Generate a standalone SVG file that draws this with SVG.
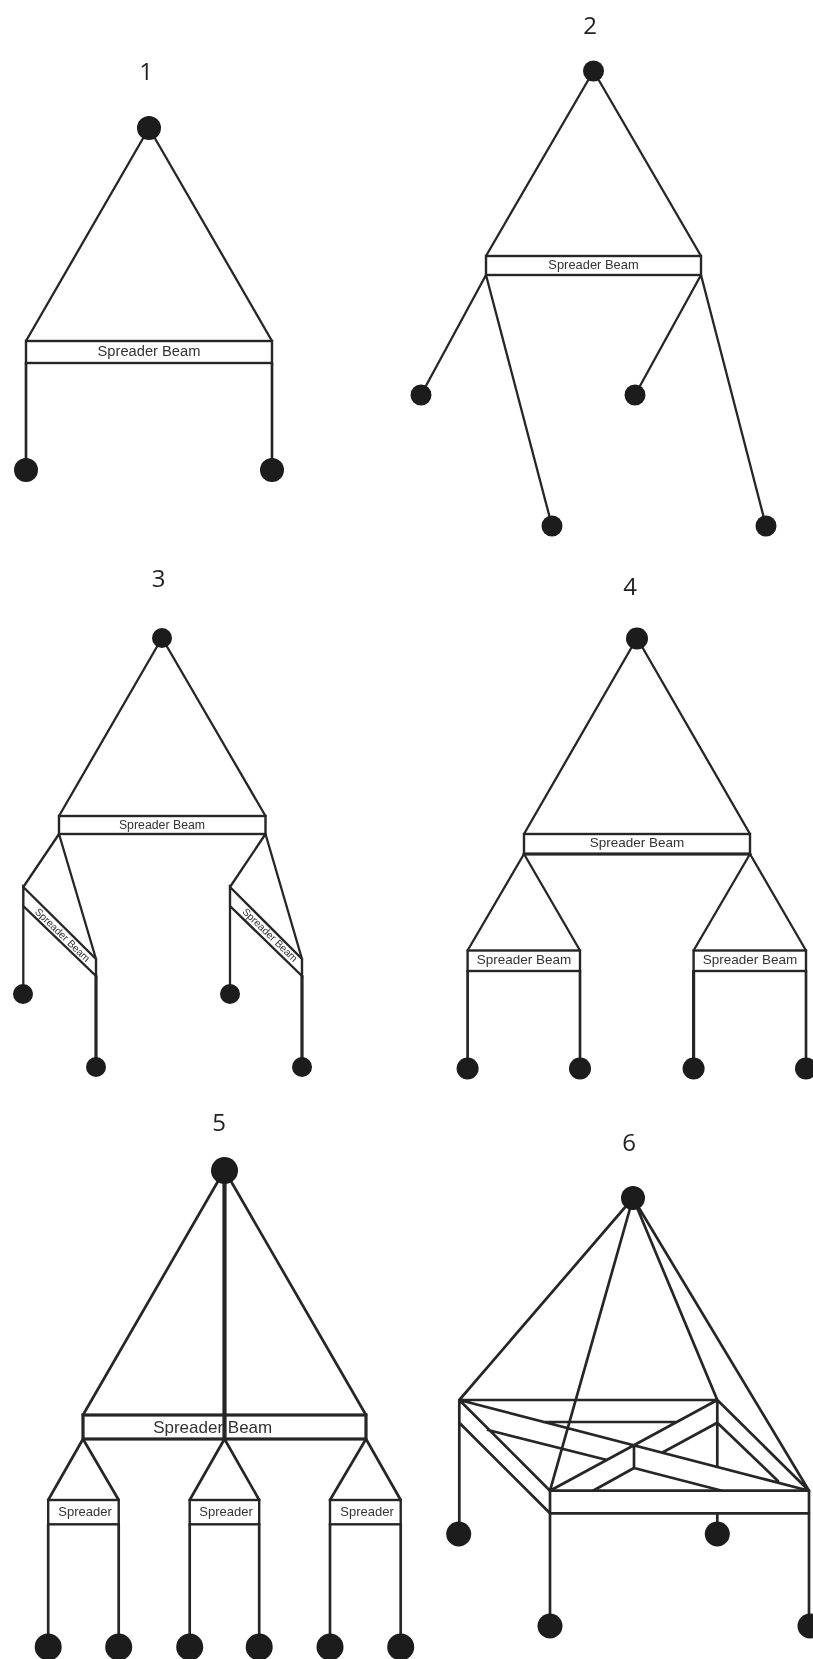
<svg xmlns="http://www.w3.org/2000/svg" width="813" height="1659" viewBox="0 0 813 1659">
<style>
.c{stroke:#262626;stroke-width:2.3;fill:none;stroke-linecap:round}
.h{stroke-width:2.7}
.t{stroke-width:3.2}
.b{stroke:#262626;stroke-width:2.4;fill:#fff}
.w{fill:#1a1a1a}
.l{font-family:"Liberation Sans",Arial,sans-serif;fill:#333;text-anchor:middle}
.n{font-family:"Open Sans",sans-serif;font-size:24px;fill:#222;text-anchor:middle}
</style>
<defs><filter id="soft" x="0" y="0" width="100%" height="100%"><feGaussianBlur stdDeviation="0.4"/></filter></defs>
<rect width="813" height="1659" fill="#fff"/>
<g filter="url(#soft)">
<g id="connectors">
<path class="c" d="M149 128L26 341M149 128L272 341"/>
<path class="c h" d="M26 363V470M272 363V470"/>
<path class="c" d="M593.5 71L486 256M593.5 71L701 256M486 275L421 395M486 275L552 526M701 275L635 395M701 275L766 526"/>
<path class="c" d="M162 638L59 816M162 638L265.5 816M59 834L23.3 887M59 834L96 959M265.5 834L230 887M265.5 834L302 959M23.3 906V994M230 906V994"/>
<path class="c t" d="M96 976V1067M302 976V1067"/>
<path class="c" d="M637 638L524 834M637 638L750 834M524 854L467.6 950.5M524 854L580 950.5M750 854L693.6 950.5M750 854L806 950.5"/>
<path class="c h" d="M467.6 971V1068M580 971V1068M806 971V1068"/>
<path class="c t" d="M693.6 971V1068"/>
<path class="c h" d="M224.5 1170L83 1415M224.5 1170L366 1415M83 1439L48.2 1500M83 1439L118.7 1500M224.5 1439L189.7 1500M224.5 1439L259.2 1500M366 1439L330 1500M366 1439L400.7 1500M48.2 1524V1647M118.7 1524V1647M189.7 1524V1647M259.2 1524V1647M330 1524V1647M400.7 1524V1647"/>
<path class="c h" d="M633 1198L459.3 1400M633 1198L550 1490.7M633 1198L717.3 1400M633 1198L809 1490.7M459.3 1400H717.3M459.3 1400L550 1490.7M459.3 1422.7L550 1513.3M459.3 1400V1534M459.3 1400L809 1490.7M717.3 1400L550 1490.7M717.3 1400V1466M717.3 1400L809 1490.7M717.3 1422.7L778 1481M717.3 1422.7L662 1452.7M543 1422H677M488 1430L607 1460M634 1447V1468M634 1468L593 1490.7M634 1468L722 1490.7M550 1513.3V1626M809 1513.3V1626M717.3 1513.3V1534"/>
</g>
<g id="d1-label"><text class="n" x="146" y="80">1</text></g>
<g id="d1-top"><circle class="w" cx="149" cy="128" r="12"/></g>
<g id="d1-beam"><rect class="b" x="26" y="341" width="246" height="22"/><text class="l" x="149" y="355.5" font-size="14.7">Spreader Beam</text></g>
<g id="d1-w1"><circle class="w" cx="26" cy="470" r="12"/></g>
<g id="d1-w2"><circle class="w" cx="272" cy="470" r="12"/></g>
<g id="d2-label"><text class="n" x="590" y="34">2</text></g>
<g id="d2-top"><circle class="w" cx="593.5" cy="71" r="10.5"/></g>
<g id="d2-beam"><rect class="b" x="486" y="256" width="215" height="19"/><text class="l" x="593.5" y="268.5" font-size="12.9">Spreader Beam</text></g>
<g id="d2-w1"><circle class="w" cx="421" cy="395" r="10.5"/></g>
<g id="d2-w2"><circle class="w" cx="635" cy="395" r="10.5"/></g>
<g id="d2-w3"><circle class="w" cx="552" cy="526" r="10.5"/></g>
<g id="d2-w4"><circle class="w" cx="766" cy="526" r="10.5"/></g>
<g id="d3-label"><text class="n" x="158.5" y="587">3</text></g>
<g id="d3-top"><circle class="w" cx="162" cy="638" r="10"/></g>
<g id="d3-beam"><rect class="b" x="59" y="816" width="206.5" height="18"/><text class="l" x="162" y="828.5" font-size="12.3">Spreader Beam</text></g>
<g id="d3-sub1"><path class="b" d="M23.3 887L96 959V976L23.3 906Z"/><text class="l" font-size="10.3" transform="translate(62.5 935) rotate(44)" y="3.5">Spreader Beam</text></g>
<g id="d3-sub2"><path class="b" d="M230 887L302 959V976L230 906Z"/><text class="l" font-size="10.3" transform="translate(270 935) rotate(44)" y="3.5">Spreader Beam</text></g>
<g id="d3-w1"><circle class="w" cx="23" cy="994" r="10"/></g>
<g id="d3-w2"><circle class="w" cx="96" cy="1067" r="10"/></g>
<g id="d3-w3"><circle class="w" cx="230" cy="994" r="10"/></g>
<g id="d3-w4"><circle class="w" cx="302" cy="1067" r="10"/></g>
<g id="d4-label"><text class="n" x="630" y="595">4</text></g>
<g id="d4-top"><circle class="w" cx="637" cy="638.5" r="11"/></g>
<g id="d4-beam"><rect class="b" x="524" y="834" width="226" height="20"/><path class="c t" d="M524 854H750"/><text class="l" x="637" y="847" font-size="13.5">Spreader Beam</text></g>
<g id="d4-sub1"><rect class="b" x="467.6" y="950.5" width="112.4" height="20.5"/><text class="l" x="524" y="964" font-size="13.5">Spreader Beam</text></g>
<g id="d4-sub2"><rect class="b" x="693.6" y="950.5" width="112.4" height="20.5"/><text class="l" x="750" y="964" font-size="13.5">Spreader Beam</text></g>
<g id="d4-w1"><circle class="w" cx="467.6" cy="1068.5" r="11"/></g>
<g id="d4-w2"><circle class="w" cx="580" cy="1068.5" r="11"/></g>
<g id="d4-w3"><circle class="w" cx="693.6" cy="1068.5" r="11"/></g>
<g id="d4-w4"><circle class="w" cx="806" cy="1068.5" r="11"/></g>
<g id="d5-label"><text class="n" x="219" y="1131">5</text></g>
<g id="d5-beam"><rect class="b" x="83" y="1415" width="283" height="24" style="stroke-width:3.2"/><text class="l" x="212.7" y="1432.5" font-size="17">Spreader Beam</text></g>
<g id="d5-hoist"><path class="c" style="stroke-width:4.2" d="M224.5 1170V1439"/></g>
<g id="d5-top"><circle class="w" cx="224.5" cy="1170.5" r="13.5"/></g>
<g id="d5-sub1"><rect class="b" x="48.2" y="1500" width="70.5" height="24.3"/><text class="l" x="85" y="1516" font-size="13">Spreader</text></g>
<g id="d5-sub2"><rect class="b" x="189.7" y="1500" width="69.5" height="24.3"/><text class="l" x="226" y="1516" font-size="13">Spreader</text></g>
<g id="d5-sub3"><rect class="b" x="330" y="1500" width="70.7" height="24.3"/><text class="l" x="367" y="1516" font-size="13">Spreader</text></g>
<g id="d5-w1"><circle class="w" cx="48.2" cy="1647" r="13.5"/></g>
<g id="d5-w2"><circle class="w" cx="118.7" cy="1647" r="13.5"/></g>
<g id="d5-w3"><circle class="w" cx="189.7" cy="1647" r="13.5"/></g>
<g id="d5-w4"><circle class="w" cx="259.2" cy="1647" r="13.5"/></g>
<g id="d5-w5"><circle class="w" cx="330" cy="1647" r="13.5"/></g>
<g id="d5-w6"><circle class="w" cx="400.7" cy="1647" r="13.5"/></g>
<g id="d6-label"><text class="n" x="629" y="1151">6</text></g>
<g id="d6-top"><circle class="w" cx="633" cy="1198" r="12"/></g>
<g id="d6-beam"><path class="c h" d="M550 1490.7H809M550 1513.3H809M550 1490.7V1513.3M809 1490.7V1513.3"/></g>
<g id="d6-w1"><circle class="w" cx="458.7" cy="1534" r="12.5"/></g>
<g id="d6-w2"><circle class="w" cx="717.3" cy="1534" r="12.5"/></g>
<g id="d6-w3"><circle class="w" cx="550" cy="1626" r="12.5"/></g>
<g id="d6-w4"><circle class="w" cx="810" cy="1626" r="12.5"/></g>
</g>
</svg>
